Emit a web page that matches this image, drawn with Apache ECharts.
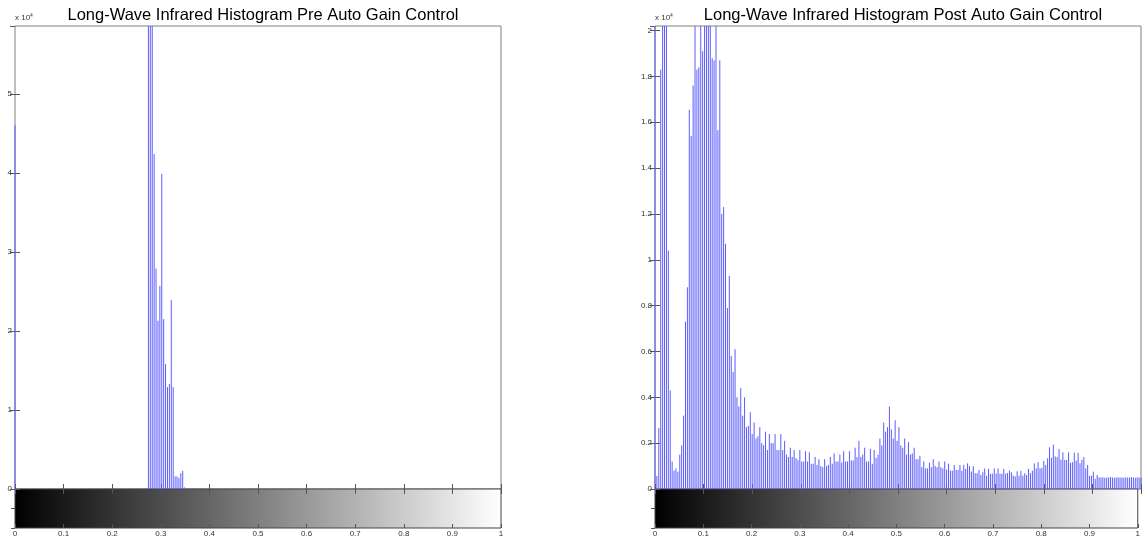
<!DOCTYPE html>
<html>
<head>
<meta charset="utf-8">
<script src="https://cdn.jsdelivr.net/npm/echarts@6/dist/echarts.min.js"></script>
<style>
html, body { margin: 0; padding: 0; background: #fff; }
#chart { width: 1143px; height: 539px; }
</style>
</head>
<body>
<div id="chart"></div>
<script>
// imhist style output, 256 bins over [0, 1]
const titles = [
  'Long-Wave Infrared Histogram Pre Auto Gain Control',
  'Long-Wave Infrared Histogram Post Auto Gain Control'
];
const xTicks = [0, 0.1, 0.2, 0.3, 0.4, 0.5, 0.6, 0.7, 0.8, 0.9, 1];

// pre AGC: only a few bins are populated (bin index, count)
const preBins = [0, 70, 71, 72, 73, 74, 75, 76, 77, 78, 79, 80, 81, 82, 83, 84, 85, 86, 87, 88, 89];
const preCounts = [46000, 90000, 90000, 90000, 42400, 27900, 21300, 25700, 39900, 21500,
  15800, 12900, 13300, 23900, 12900, 1600, 1600, 1400, 2000, 2300, 200];

// post AGC: all 256 bins
const postCounts = [
  25000, 570, 2660, 18300, 25000, 25000, 25000, 10400, 4300, 1200, 800, 900, 750, 1500, 1900, 3200,
  7300, 8800, 16550, 15400, 17600, 25000, 18300, 18400, 25000, 19100, 25000, 25000, 25000, 25000, 18800, 18700,
  25000, 15650, 18700, 12000, 12300, 10700, 7900, 9300, 5800, 5100, 6100, 4000, 3600, 4400, 3200, 4000,
  2700, 2750, 3350, 2400, 2900, 2200, 2300, 2700, 2000, 1900, 2500, 1700, 2400, 2000, 2000, 2400,
  1700, 1700, 2400, 1700, 2100, 1500, 1400, 1800, 1400, 1700, 1350, 1260, 1700, 1200, 1200, 1650,
  1200, 1600, 1100, 1100, 1400, 1050, 1300, 1000, 950, 1300, 1000, 1050, 1400, 1100, 1550, 1200,
  1200, 1500, 1150, 1650, 1200, 1200, 1650, 1250, 1250, 1800, 1400, 2100, 1400, 1500, 1800, 1200,
  1200, 1750, 1100, 1700, 1350, 1500, 2200, 1900, 2900, 2500, 2700, 3600, 2600, 2200, 3000, 2100,
  2700, 1900, 1800, 2200, 1500, 2050, 1500, 1550, 1800, 1300, 1300, 1450, 950, 1200, 900, 900,
  1150, 950, 1300, 1000, 950, 1200, 950, 900, 1200, 850, 1100, 800, 800, 1050, 830, 830,
  1050, 800, 1050, 880, 1120, 1000, 760, 1000, 690, 690, 830, 610, 730, 900, 580, 880,
  660, 670, 900, 670, 900, 660, 670, 880, 670, 700, 800, 730, 580, 550, 770, 580,
  790, 580, 690, 610, 880, 690, 800, 1120, 900, 1170, 900, 920, 1230, 1040, 1340, 1820,
  1360, 1930, 1420, 1390, 1740, 1280, 1600, 1270, 1270, 1600, 1140, 1170, 1590, 1240, 1580, 1120,
  1270, 1390, 900, 1050, 580, 580, 760, 440, 610, 510, 500, 510, 490, 500, 500, 520,
  500, 490, 500, 510, 500, 500, 490, 510, 500, 500, 520, 500, 490, 510, 500, 500
];

const preYMax = 58600, preYStep = 10000;
const postYMax = 20200, postYStep = 2000;

const FONT = '"Liberation Sans", Arial, sans-serif';
const labelColor = '#333';
const tickColor = '#555';
const stemColor = '#5c5cff';

const grayRamp = new echarts.graphic.LinearGradient(0, 0, 1, 0, [
  { offset: 0, color: '#000' },
  { offset: 1, color: '#fff' }
]);

function histX(gridIndex, position) {
  return {
    gridIndex, type: 'value', position, min: xTicks[0], max: xTicks[xTicks.length - 1], interval: 0.1,
    axisLine: { show: false },
    axisTick: { inside: true, length: 5, lineStyle: { color: tickColor } },
    axisLabel: { show: false },
    splitLine: { show: false }
  };
}
function barX(gridIndex) {
  return {
    gridIndex, type: 'value', position: 'bottom', min: 0, max: 1, interval: 0.1,
    axisLine: { show: false },
    axisTick: { inside: true, length: 4, lineStyle: { color: tickColor } },
    axisLabel: { fontSize: 8, color: labelColor, fontFamily: FONT, margin: 2 },
    splitLine: { show: false }
  };
}
function histY(gridIndex, max, step, withLabels) {
  const ax = {
    gridIndex, type: 'value', min: 0, max, interval: step,
    position: withLabels ? 'left' : 'right',
    axisLine: { show: false },
    axisTick: { inside: true, length: 5, lineStyle: { color: tickColor } },
    axisLabel: { show: false },
    splitLine: { show: false }
  };
  if (withLabels) {
    ax.axisLabel = {
      show: true, fontSize: 8, color: labelColor, fontFamily: FONT, margin: 3,
      showMaxLabel: false,
      formatter: v => String(+(v / 10000).toFixed(2))
    };
    ax.name = 'x 10{s|4}';
    ax.nameLocation = 'end';
    ax.nameGap = 4;
    ax.nameTextStyle = {
      fontSize: 8, color: labelColor, fontFamily: FONT, align: 'left', lineHeight: 9,
      rich: { s: { fontSize: 5, verticalAlign: 'top', color: labelColor } }
    };
  }
  return ax;
}
function barY(gridIndex) {
  return {
    gridIndex, type: 'value', min: 0, max: 1, interval: 0.5, position: 'right',
    axisLine: { show: false },
    axisTick: { inside: true, length: 4, lineStyle: { color: tickColor } },
    axisLabel: { show: false },
    splitLine: { show: false }
  };
}

// matlab stem: one vertical line per bin, from 0 up to the count (cut at the axes top)
function renderStem(params, api) {
  const x = api.value(0);
  const p0 = api.coord([x, 0]);
  const p1 = api.coord([x, api.value(1)]);
  const top = params.coordSys.y;
  return {
    type: 'line',
    shape: { x1: p0[0], y1: p0[1], x2: p1[0], y2: Math.max(p1[1], top) },
    style: { stroke: stemColor, lineWidth: 1 }
  };
}

const histGrid = { top: 26, width: 486, height: 463, show: true, borderColor: '#808080', borderWidth: 1, backgroundColor: '#fff' };
const rampGrid = { top: 489, width: 486, height: 39, show: true, borderColor: '#444', borderWidth: 1, backgroundColor: grayRamp };

const option = {
  animation: false,
  backgroundColor: '#fff',
  title: [
    { text: titles[0], left: 258, top: 2, textAlign: 'center',
      textStyle: { fontSize: 16.5, fontWeight: 'normal', color: '#000', fontFamily: FONT } },
    { text: titles[1], left: 898, top: 2, textAlign: 'center',
      textStyle: { fontSize: 16.5, fontWeight: 'normal', color: '#000', fontFamily: FONT } }
  ],
  grid: [
    Object.assign({ left: 15 }, histGrid),
    Object.assign({ left: 15 }, rampGrid),
    Object.assign({ left: 655 }, histGrid),
    Object.assign({ left: 655 }, rampGrid)
  ],
  xAxis: [
    histX(0, 'bottom'), histX(0, 'top'), barX(1),
    histX(2, 'bottom'), histX(2, 'top'), barX(3)
  ],
  yAxis: [
    histY(0, preYMax, preYStep, true), histY(0, preYMax, preYStep, false), barY(1),
    histY(2, postYMax, postYStep, true), histY(2, postYMax, postYStep, false), barY(3)
  ],
  series: [
    {
      type: 'custom', xAxisIndex: 0, yAxisIndex: 0, clip: false, silent: true, z: 5,
      renderItem: renderStem,
      data: preBins.map((b, i) => [b / 255, preCounts[i]])
    },
    {
      type: 'custom', xAxisIndex: 3, yAxisIndex: 3, clip: false, silent: true, z: 5,
      renderItem: renderStem,
      data: postCounts.map((c, i) => [i / 255, c])
    }
  ]
};

const myChart = echarts.init(document.getElementById('chart'));
myChart.setOption(option);
</script>
</body>
</html>
